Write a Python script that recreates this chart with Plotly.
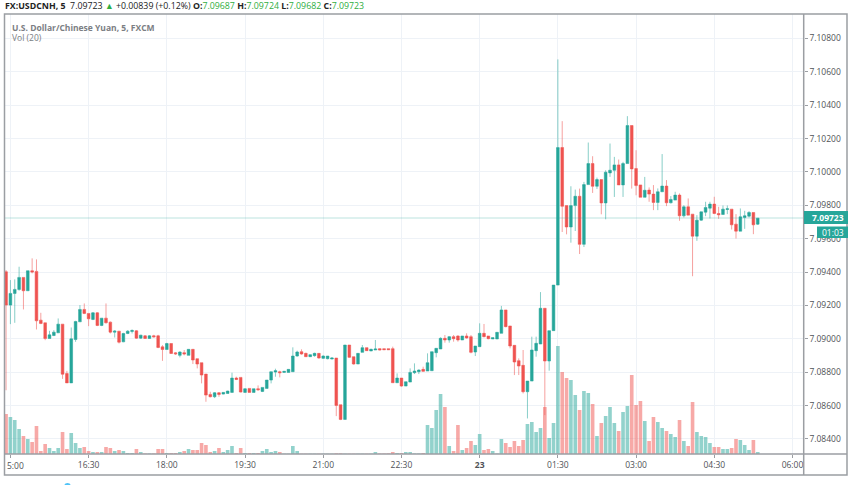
import pandas as pd
import plotly.graph_objects as go

# 5 minute bars, prices in points above 7 (1 point = 0.00001)
opens = [9402,9202,9272,9296,9368,9288,9408,9404,9112,9096,
         9002,9020,9036,9088,8792,8736,8996,9102,9176,9152,
         9116,9156,9080,9124,9100,9040,9046,8982,9032,9044,
         9048,9004,9018,9002,9018,9018,8952,8936,8972,8916,
         8901,8917,8901,8937,8881,8857,8789,8667,8653,8677,
         8669,8673,8679,8765,8769,8679,8703,8679,8701,8685,
         8703,8753,8801,8803,8799,8799,8803,8897,8923,8913,
         8893,8899,8913,8883,8881,8879,8885,8605,8517,8963,
         8893,8849,8919,8947,8927,8933,8941,8941,8941,8941,
         8737,8765,8717,8741,8797,8803,8817,8807,8809,8917,
         8939,9003,8993,9013,9017,8993,9017,9013,8921,8953,
         9033,9017,8999,8999,9033,9173,9077,8961,8869,8841,
         8683,8747,8929,8969,9183,8867,9049,9322,10146,9798,
         9670,9798,9854,9566,9924,10050,9914,9954,9814,9994,
         10010,10042,9922,10050,10278,10020,9922,9848,9891,9867,
         9817,9881,9915,9815,9831,9861,9737,9791,9747,9615,
         9711,9759,9783,9807,9751,9745,9775,9777,9687,9645,
         9727,9735,9757,9687]
highs = [9412,9352,9356,9432,9368,9408,9482,9476,9156,9096,
         9048,9052,9122,9088,8808,9068,9108,9202,9212,9152,
         9160,9160,9124,9212,9104,9052,9046,9036,9052,9056,
         9052,9024,9022,9022,9024,9024,8962,8976,8972,8920,
         8925,8933,8937,8937,8881,8857,8789,8683,8681,8681,
         8681,8689,8797,8773,8769,8703,8703,8701,8721,8709,
         8753,8803,8821,8809,8805,8817,8949,8929,8937,8917,
         8907,8917,8913,8901,8897,8889,8885,8605,8963,8963,
         8893,8913,8963,8947,8941,8993,8943,8941,8941,8953,
         8793,8765,8743,8823,8853,8817,8833,8913,8923,8943,
         9009,9023,9017,9023,9021,9017,9033,9023,8957,9093,
         9089,9017,9007,9039,9197,9173,9077,8961,8883,8933,
         8747,9013,9013,9280,9183,9049,9322,10674,10304,9798,
         9914,9894,9900,9940,10176,10094,9966,9954,10010,10170,
         10090,10074,10060,10334,10278,10130,9922,9970,9907,9921,
         9901,10107,9951,9855,9881,9871,9801,9841,9747,9741,
         9761,9821,9821,9851,9791,9799,9799,9777,9747,9781,
         9767,9765,9757,9724]
lows = [8692,9088,9096,9288,9176,9288,9392,9056,9088,8992,
        9002,9016,9036,8760,8736,8736,8982,9102,9148,9076,
        9112,9076,9076,9092,9032,9008,8972,8980,9028,9032,
        9000,9000,9000,9000,9008,8944,8868,8936,8910,8904,
        8889,8901,8901,8849,8823,8733,8623,8649,8645,8653,
        8667,8671,8679,8753,8679,8679,8679,8679,8689,8681,
        8703,8733,8773,8769,8799,8799,8803,8893,8905,8891,
        8891,8893,8881,8879,8877,8877,8537,8513,8517,8885,
        8845,8849,8919,8927,8927,8933,8931,8933,8933,8737,
        8737,8713,8717,8741,8789,8789,8803,8807,8809,8889,
        8939,8977,8977,8983,8983,8993,9001,8913,8897,8953,
        9009,8997,8999,8999,9033,9069,8943,8783,8783,8673,
        8523,8747,8893,8969,8543,8809,9049,9322,9640,9626,
        9576,9646,9508,9550,9924,9874,9898,9746,9716,9970,
        9850,9922,9850,10050,9900,9860,9848,9848,9821,9771,
        9771,9881,9795,9811,9831,9707,9727,9741,9375,9587,
        9707,9735,9721,9747,9719,9745,9747,9655,9601,9645,
        9659,9727,9627,9682]
closes = [9202,9272,9296,9368,9288,9408,9400,9108,9092,9002,
          9024,9040,9088,8788,8736,9000,9104,9176,9152,9120,
          9156,9080,9124,9096,9040,9046,8980,9032,9046,9050,
          9004,9022,9002,9018,9012,8948,8936,8972,8912,8910,
          8921,8909,8937,8873,8849,8783,8663,8653,8677,8667,
          8679,8687,8765,8757,8681,8701,8679,8701,8695,8709,
          8753,8803,8809,8797,8805,8817,8897,8921,8909,8893,
          8905,8913,8885,8897,8897,8885,8601,8517,8963,8889,
          8849,8913,8947,8929,8937,8939,8933,8935,8935,8737,
          8765,8717,8743,8799,8807,8813,8805,8857,8923,8943,
          9003,8993,9013,9001,8993,9017,9005,8919,8957,9033,
          9013,9001,9007,9039,9173,9073,8957,8861,8837,8683,
          8747,8933,8973,9183,8867,9049,9322,10146,9794,9670,
          9798,9854,9566,9924,10050,9914,9954,9814,9998,10010,
          10042,9922,10050,10278,10018,9918,9848,9890,9867,9817,
          9881,9915,9815,9835,9861,9737,9791,9741,9615,9711,
          9761,9787,9807,9751,9743,9777,9779,9683,9645,9731,
          9737,9757,9683,9723]
volumes = [40,37,34,25,18,15,12,28,3,10,
           6,3,6,22,5,21,11,6,7,3,
           2,2,2,7,6,3,4,3,1,1,
           5,2,0.5,0.5,0.5,5,5,1,1,1,
           2,3,5,4,4,11,9,2,3,6,
           2,4,8,1,6,1,1,1,1,3,
           5,2,3,2,0.3,0.3,8,3,0.3,0.3,
           0.3,0.3,0.3,0.3,0.3,0.3,0.7,0.7,0.3,0.3,
           0.3,0.3,0.3,0.3,0.3,2,0.5,0.5,0.7,2,
           1,1,2,2,0.5,0.5,1,29,26,44,
           60,47,8,3,29,4,6,13,9,20,
           4,5,3,0.5,15,11,7,13,8,14,
           30,32,22,26,47,16,31,108,82,76,
           74,59,44,63,61,50,18,31,38,47,
           31,23,42,48,79,49,53,33,13,37,
           32,26,23,20,17,34,13,8,52,22,
           18,17,11,7,7,5,5,6,15,14,
           9,4,14,2]

time_ticks = ["2019-08-22 15:00", "2019-08-22 16:30", "2019-08-22 18:00", "2019-08-22 19:30",
              "2019-08-22 21:00", "2019-08-22 22:30", "2019-08-23 00:00", "2019-08-23 01:30",
              "2019-08-23 03:00", "2019-08-23 04:30", "2019-08-23 06:00"]
time_labels = ["", "16:30", "18:00", "19:30", "21:00", "22:30", "<b>23</b>", "01:30", "03:00", "04:30", "06:00"]
price_ticks = [7.084, 7.086, 7.088, 7.09, 7.092, 7.094, 7.096, 7.098, 7.1, 7.102, 7.104, 7.106, 7.108]

TEAL = "#26a69a"
RED = "#ef5350"
GRID = "#eef2f7"
FRAME = "#9b9ea3"
LABEL = "#4f5257"
FONT = "Open Sans, sans-serif"
W, H = 852, 485

# plot area in pixels
LEFT, RIGHT, TOP, BOTTOM = 4.5, 803.7, 14, 454
LAST_Y = 218

times = pd.date_range("2019-08-22 14:55", periods=len(opens), freq="5min")
to_price = lambda pts: [7 + p / 100000 for p in pts]
vol_colors = ["rgba(38,166,154,0.5)" if c >= o else "rgba(239,83,80,0.5)" for o, c in zip(opens, closes)]

fig = go.Figure()

fig.add_trace(go.Bar(x=times, y=volumes, width=250000, marker=dict(color=vol_colors, line_width=0),
                     yaxis="y", showlegend=False))
fig.add_trace(go.Candlestick(
    x=times, open=to_price(opens), high=to_price(highs), low=to_price(lows), close=to_price(closes),
    yaxis="y2", whiskerwidth=0, showlegend=False,
    increasing=dict(line=dict(color="rgba(38,166,154,0.55)", width=1), fillcolor=TEAL),
    decreasing=dict(line=dict(color="rgba(239,83,80,0.55)", width=1), fillcolor=RED),
))

px = lambda x: x / W
py = lambda y: 1 - y / H
shapes = [
    # last price line
    dict(type="line", xref="paper", yref="paper", x0=px(LEFT), x1=px(RIGHT), y0=py(LAST_Y), y1=py(LAST_Y),
         line=dict(color=TEAL, width=1, dash="1px,1px"), opacity=0.6),
    # corner under the price axis
    dict(type="rect", xref="paper", yref="paper", x0=px(RIGHT), x1=px(847), y0=py(475), y1=py(BOTTOM),
         fillcolor="white", line_width=0),
    # frame and axis lines
    dict(type="rect", xref="paper", yref="paper", x0=px(LEFT), x1=px(847), y0=py(475), y1=py(TOP),
         line=dict(color=FRAME, width=1.5)),
    dict(type="line", xref="paper", yref="paper", x0=px(RIGHT), x1=px(RIGHT), y0=py(475), y1=py(TOP),
         line=dict(color=FRAME, width=1.5)),
    dict(type="line", xref="paper", yref="paper", x0=px(LEFT), x1=px(847), y0=py(BOTTOM), y1=py(BOTTOM),
         line=dict(color=FRAME, width=1.5)),
    # price and countdown labels
    dict(type="rect", xref="paper", yref="paper", x0=px(804), x1=px(848), y0=py(224), y1=py(211),
         fillcolor=TEAL, line_width=0),
    dict(type="rect", xref="paper", yref="paper", x0=px(817), x1=px(848), y0=py(238), y1=py(226.5),
         fillcolor=TEAL, line_width=0),
    # bit of a widget cut off by the bottom edge
    dict(type="circle", xref="paper", yref="paper", x0=px(64), x1=px(71), y0=py(491), y1=py(483),
         fillcolor="#4fc3f7", line_width=0),
]


def note(text, x, y, size=9, color=LABEL, xanchor="left"):
    return dict(text=text, xref="paper", yref="paper", x=px(x), y=py(y), xanchor=xanchor, yanchor="middle",
                showarrow=False, align="left", font=dict(family=FONT, size=size, color=color))


GREEN = "#2fae3f"
header = ("<b>FX:USDCNH, 5</b>  7.09723 <span style='color:%s'>▲</span> +0.00839 (+0.12%%) "
          "<b>O:</b><span style='color:%s'>7.09687</span> <b>H:</b><span style='color:%s'>7.09724</span> "
          "<b>L:</b><span style='color:%s'>7.09682</span> <b>C:</b><span style='color:%s'>7.09723</span>"
          % (GREEN, GREEN, GREEN, GREEN, GREEN))
annotations = [
    note(header, 3, 6, size=8.8, color="#222222"),
    note("<b>U.S. Dollar/Chinese Yuan, 5, FXCM</b>", 10, 27, size=8.5, color="#7b7e83"),
    note("Vol (20)", 10, 38, size=8.5, color="#7b7e83"),
    note("5:00", 5, 465, size=8.5),
    note("<b>7.09723</b>", 810, 217.5, size=8.5, color="white"),
    note("01:03", 820, 232, size=8.5, color="white"),
]

fig.update_layout(
    width=W, height=H,
    margin=dict(l=0, r=0, t=0, b=0),
    paper_bgcolor="white", plot_bgcolor="white",
    font=dict(family=FONT, size=8.5, color=LABEL),
    showlegend=False, barmode="overlay", boxgap=0.12,
    shapes=shapes, annotations=annotations,
    xaxis=dict(domain=[px(LEFT), px(RIGHT)], range=["2019-08-22 14:53:12", "2019-08-23 06:12:54"],
               tickmode="array", tickvals=time_ticks, ticktext=time_labels, tickangle=0,
               ticks="outside", ticklen=3, tickcolor=FRAME, showgrid=True, gridcolor=GRID, gridwidth=1,
               zeroline=False, rangeslider=dict(visible=False)),
    yaxis=dict(domain=[py(BOTTOM), py(TOP)], range=[0, BOTTOM - TOP], showgrid=False, showticklabels=False,
               ticks="", zeroline=False),
    yaxis2=dict(domain=[py(BOTTOM), py(TOP)], overlaying="y", side="right", anchor="x",
                range=[7.0831, 7.10946], tickmode="array", tickvals=price_ticks,
                ticktext=["%.5f" % p for p in price_ticks], ticks="outside", ticklen=3, tickcolor=FRAME,
                showgrid=True, gridcolor=GRID, gridwidth=1, zeroline=False),
)

fig.write_html("out.html", config=dict(displayModeBar=False), post_script="document.body.style.margin='0';")
